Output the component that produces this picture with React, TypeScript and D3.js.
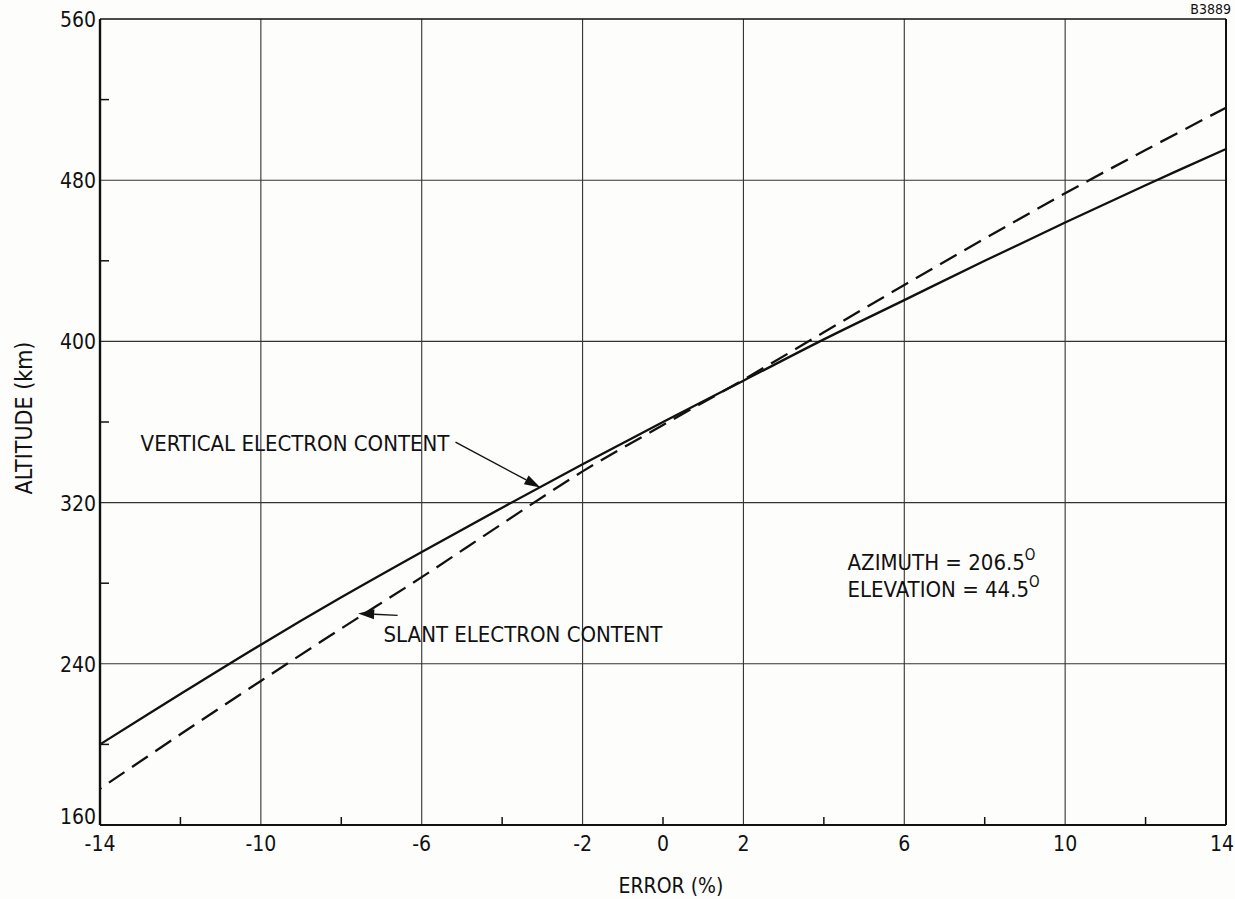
import * as d3 from 'd3'
import { useEffect, useRef } from 'react'

// error (%) sampled every 2 units
const errorPct = [-14, -12, -10, -8, -6, -4, -2, 0, 2, 4, 6, 8, 10, 12, 14]
const verticalAlt = [200, 225, 249.5, 273, 295.5, 317.5, 339, 360, 380.5, 401, 420.5, 440, 459, 477.5, 495.5]
const slantAlt = [178, 205, 231.5, 257.5, 283, 309.5, 335.5, 358.5, 381, 404.5, 428, 451, 473.5, 495, 516]

const xTickLabels = [-14, -10, -6, -2, 0, 2, 6, 10, 14]
const xGridLines = [-10, -6, -2, 2, 6, 10]
const xMinorTicks = [-12, -8, -4, 0, 4, 8, 12]
const yTickLabels = [160, 240, 320, 400, 480, 560]
const yGridLines = [240, 320, 400, 480]
const yMinorTicks = [200, 280, 360, 440, 520]

const FONT = "'DejaVu Sans Condensed', 'Liberation Sans Narrow', 'DejaVu Sans', sans-serif"
const INK = '#111'

const App = () => {
  const ref = useRef<SVGSVGElement>(null)

  useEffect(() => {
    const width = 1235
    const height = 899
    const margin = { top: 19, right: 9, bottom: 74, left: 100 }
    const svg = d3.select(ref.current)
    svg.selectAll('*').remove()
    svg.attr('width', width).attr('height', height)

    const x = d3.scaleLinear().domain([-14, 14]).range([margin.left, width - margin.right])
    const y = d3.scaleLinear().domain([160, 560]).range([height - margin.bottom, margin.top])

    svg.append('rect').attr('width', width).attr('height', height).attr('fill', '#fdfdfc')

    // grid
    const grid = svg.append('g').attr('stroke', '#333').attr('stroke-width', 1.1)
    grid
      .selectAll('line.v')
      .data(xGridLines)
      .enter()
      .append('line')
      .attr('x1', (d) => x(d))
      .attr('x2', (d) => x(d))
      .attr('y1', y(560))
      .attr('y2', y(160))
    grid
      .selectAll('line.h')
      .data(yGridLines)
      .enter()
      .append('line')
      .attr('x1', x(-14))
      .attr('x2', x(14))
      .attr('y1', (d) => y(d))
      .attr('y2', (d) => y(d))

    // minor ticks
    svg
      .selectAll('line.xm')
      .data(xMinorTicks)
      .enter()
      .append('line')
      .attr('x1', (d) => x(d))
      .attr('x2', (d) => x(d))
      .attr('y1', y(160))
      .attr('y2', y(160) - 8)
      .attr('stroke', INK)
      .attr('stroke-width', 1.5)
    svg
      .selectAll('line.ym')
      .data(yMinorTicks)
      .enter()
      .append('line')
      .attr('x1', x(-14))
      .attr('x2', x(-14) + 9)
      .attr('y1', (d) => y(d))
      .attr('y2', (d) => y(d))
      .attr('stroke', INK)
      .attr('stroke-width', 1.5)

    // frame
    const frame = svg.append('g').attr('stroke', INK).attr('fill', 'none')
    frame.append('line').attr('x1', x(-14)).attr('x2', x(14)).attr('y1', y(560)).attr('y2', y(560)).attr('stroke-width', 1.6)
    frame.append('line').attr('x1', x(-14)).attr('x2', x(14)).attr('y1', y(160)).attr('y2', y(160)).attr('stroke-width', 2.2)
    frame.append('line').attr('x1', x(-14)).attr('x2', x(-14)).attr('y1', y(560)).attr('y2', y(160)).attr('stroke-width', 2.4)
    frame.append('line').attr('x1', x(14)).attr('x2', x(14)).attr('y1', y(560)).attr('y2', y(160)).attr('stroke-width', 2)

    // curves
    const line = d3
      .line<number>()
      .x((_, i) => x(errorPct[i]))
      .y((d) => y(d))
      .curve(d3.curveCatmullRom.alpha(0.5))
    svg
      .append('path')
      .attr('d', line(verticalAlt))
      .attr('fill', 'none')
      .attr('stroke', INK)
      .attr('stroke-width', 2.3)
    const dashed = svg
      .append('path')
      .attr('d', line(slantAlt))
      .attr('fill', 'none')
      .attr('stroke', INK)
      .attr('stroke-width', 2.3)
      .attr('stroke-dasharray', '19,9')
    // make the dash pattern finish on a dash at the right edge
    const len = (dashed.node() as SVGPathElement).getTotalLength()
    dashed.attr('stroke-dashoffset', (((18 - len) % 28) + 28) % 28)

    // tick labels
    svg
      .selectAll('text.xt')
      .data(xTickLabels)
      .enter()
      .append('text')
      .attr('x', (d) => (d === 14 ? x(d) - 4 : x(d)))
      .attr('y', y(160) + 26)
      .attr('text-anchor', 'middle')
      .attr('font-family', FONT)
      .attr('font-size', 21)
      .attr('fill', INK)
      .text((d) => d)
    svg
      .selectAll('text.yt')
      .data(yTickLabels)
      .enter()
      .append('text')
      .attr('x', x(-14) - 4)
      .attr('y', (d) => (d === 160 ? y(d) - 1 : y(d) + 8))
      .attr('text-anchor', 'end')
      .attr('font-family', FONT)
      .attr('font-size', 21)
      .attr('fill', INK)
      .text((d) => d)

    // axis titles
    svg
      .append('text')
      .attr('x', 671)
      .attr('y', 893)
      .attr('text-anchor', 'middle')
      .attr('font-family', FONT)
      .attr('font-size', 21)
      .attr('fill', INK)
      .text('ERROR (%)')
    svg
      .append('text')
      .attr('transform', 'translate(32,418) rotate(-90)')
      .attr('text-anchor', 'middle')
      .attr('font-family', FONT)
      .attr('font-size', 23)
      .attr('fill', INK)
      .text('ALTITUDE (km)')
    svg
      .append('text')
      .attr('x', 1231)
      .attr('y', 14)
      .attr('text-anchor', 'end')
      .attr('font-family', FONT)
      .attr('font-size', 14)
      .attr('fill', INK)
      .text('B3889')

    // annotations
    const arrow = (x1: number, y1: number, x2: number, y2: number) => {
      const ang = Math.atan2(y2 - y1, x2 - x1)
      const hl = 16
      const w = 5
      const bx = x2 - hl * Math.cos(ang)
      const by = y2 - hl * Math.sin(ang)
      svg
        .append('line')
        .attr('x1', x1)
        .attr('y1', y1)
        .attr('x2', bx)
        .attr('y2', by)
        .attr('stroke', INK)
        .attr('stroke-width', 1.3)
      svg
        .append('path')
        .attr(
          'd',
          `M${x2},${y2}L${bx + w * Math.sin(ang)},${by - w * Math.cos(ang)}L${bx - w * Math.sin(ang)},${by + w * Math.cos(ang)}Z`
        )
        .attr('fill', INK)
    }
    const label = (tx: number, ty: number, t: string, size = 22) =>
      svg
        .append('text')
        .attr('x', tx)
        .attr('y', ty)
        .attr('font-family', FONT)
        .attr('font-size', size)
        .attr('fill', INK)
        .text(t)

    label(x(-12.99), y(345.5), 'VERTICAL ELECTRON CONTENT')
    arrow(x(-5.16), y(350), x(-3.05), y(327.5))
    label(x(-6.95), y(251), 'SLANT ELECTRON CONTENT')
    arrow(x(-6.6), y(264), x(-7.58), y(265))

    const az = label(x(4.59), y(286.6), 'AZIMUTH = 206.5')
    az.append('tspan').attr('dy', -10).attr('font-size', 15).text('O')
    const el = label(x(4.59), y(273.2), 'ELEVATION = 44.5')
    el.append('tspan').attr('dy', -10).attr('font-size', 15).text('O')
  }, [])

  return (
    <div style={{ position: 'absolute', left: 0, top: 0 }}>
      <svg ref={ref}></svg>
    </div>
  )
}

export default App
